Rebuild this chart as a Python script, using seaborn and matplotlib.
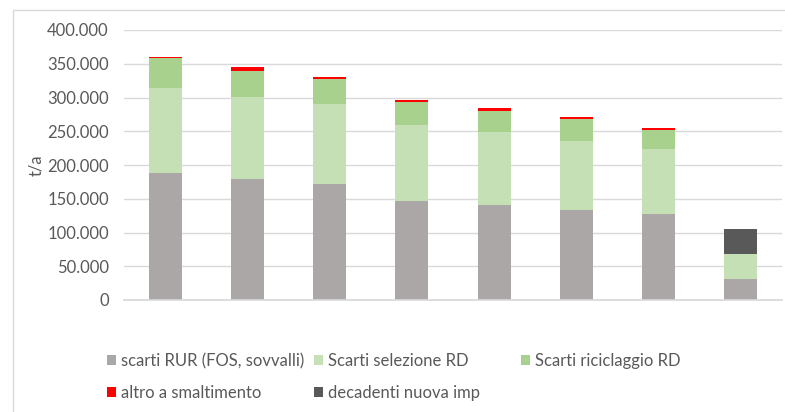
import numpy as np
import pandas as pd
import matplotlib
matplotlib.use("Agg")
import matplotlib.pyplot as plt
import seaborn as sns
from matplotlib.patches import Patch, Rectangle
from matplotlib.ticker import FuncFormatter

# Data (t/a)
categories = ["1", "2", "3", "4", "5", "6", "7", "8"]
scarti_rur = [188000, 179000, 172000, 147000, 141000, 134000, 127000, 31000]
scarti_selezione = [126000, 122000, 119000, 113000, 108000, 102000, 96000, 37000]
scarti_riciclaggio = [44000, 39000, 36000, 33000, 31000, 32000, 29000, 0]
altro_smaltimento = [2000, 5000, 3000, 3000, 4000, 3000, 3000, 0]
decadenti = [0, 0, 0, 0, 0, 0, 0, 37000]

series_names = ["scarti RUR (FOS, sovvalli)", "Scarti selezione RD", "Scarti riciclaggio RD",
                "altro a smaltimento", "decadenti nuova imp"]
series_values = [scarti_rur, scarti_selezione, scarti_riciclaggio, altro_smaltimento, decadenti]
colors = ["#ABA7A6", "#C5E0B4", "#A9D18E", "#FF0000", "#595959"]

sns.set_theme(style="white")
plt.rcParams["font.family"] = ["Lato", "DejaVu Sans"]
TXT = "#595959"

fig = plt.figure(figsize=(7.85, 4.12), dpi=100)
ax = fig.add_axes([124 / 785, 1 - 300 / 412, 658 / 785, 270 / 412])

# stacked bars: one barplot call per series, stacked with bottom
bottom = np.zeros(len(categories))
for name, vals, col in zip(series_names, series_values, colors):
    df = pd.DataFrame({"cat": categories, "val": vals})
    sns.barplot(data=df, x="cat", y="val", color=col, width=0.4, ax=ax,
                bottom=bottom, saturation=1, linewidth=0)
    bottom = bottom + np.array(vals)

ax.set_ylim(0, 400000)
ax.set_xlim(-0.5, 7.5)
ax.set_yticks(np.arange(0, 400001, 50000))
ax.yaxis.set_major_formatter(FuncFormatter(lambda v, p: f"{int(v):,}".replace(",", ".")))
ax.grid(axis="y", color="#D9D9D9", linewidth=1)
ax.set_axisbelow(True)
for s in ["left", "right", "top"]:
    ax.spines[s].set_visible(False)
ax.spines["bottom"].set_color("#D9D9D9")
ax.set_xticks(range(len(categories)))
ax.set_xticklabels([])
ax.tick_params(axis="x", length=0)
ax.tick_params(axis="y", length=0, labelsize=12, labelcolor=TXT, pad=11)
ax.set_xlabel("")
ax.set_ylabel("t/a", color=TXT, fontsize=12)
ax.yaxis.set_label_coords(-0.121, 0.5)

# outer chart frame
fig.add_artist(Rectangle((13 / 785, -0.1), 1.2, 1 - 10 / 412 + 0.1, transform=fig.transFigure,
                         fill=False, edgecolor="#D9D9D9", linewidth=1))

handles = [Patch(facecolor=c, edgecolor="none", label=n) for n, c in zip(series_names, colors)]
cols = [([handles[0], handles[3]], 107), ([handles[1], handles[4]], 314), ([handles[2]], 521)]
for hs, xpix in cols:
    leg = fig.legend(handles=hs, loc="upper left", bbox_to_anchor=(xpix / 785, 1 - 353 / 412),
                     frameon=False, fontsize=12, handlelength=0.55, handleheight=0.55,
                     handletextpad=0.3, labelspacing=0.95, borderaxespad=0, borderpad=0)
    for t in leg.get_texts():
        t.set_color(TXT)

fig.savefig("out.png", dpi=100)
